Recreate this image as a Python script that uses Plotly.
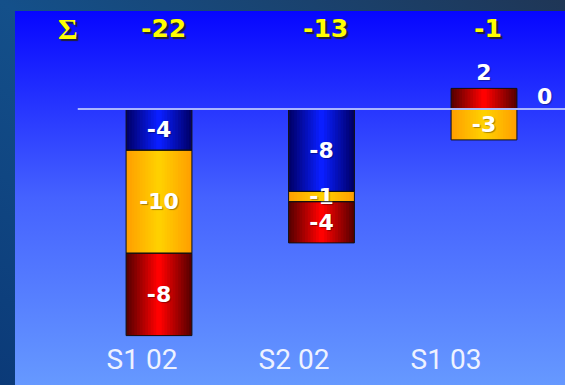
import base64
import plotly.graph_objects as go

# ---- data ----
categories = ["S1 02", "S2 02", "S1 03"]
blue_vals = [-4, -8, 0]
orange_vals = [-10, -1, -3]
red_vals = [-8, -4, 2]
totals = [b + o + r for b, o, r in zip(blue_vals, orange_vals, red_vals)]
sum_symbol = "Σ"

# ---- layout geometry ----
W, H = 565, 385
ML, MR, MT, MB = 15, 0, 11, 45
PW, PH = W - ML - MR, H - MT - MB
BAR_PX = 162.5      # px per category (bars)
BAR0_PX = 159       # centre of first bar from left edge
LAB_PX = 152        # px per category (tick labels)
LAB0_PX = 142
Y_PX = 10.3         # px per unit
Y0_PX = 109         # baseline from top
BAR_W = 0.405
N_LAYERS = 12

x_range = [(ML - BAR0_PX) / BAR_PX, (W - MR - BAR0_PX) / BAR_PX]
y_range = [-(H - MB - Y0_PX) / Y_PX, (Y0_PX - MT) / Y_PX]
xpos = list(range(len(categories)))
tick_pos = [(LAB0_PX + i * LAB_PX - BAR0_PX) / BAR_PX for i in xpos]


def grad_uri(stops, x1, y1, x2, y2):
    st = "".join(f'<stop offset="{o}" stop-color="{c}"/>' for o, c in stops)
    svg = (f'<svg xmlns="http://www.w3.org/2000/svg" viewBox="0 0 100 100" '
           f'preserveAspectRatio="none"><defs><linearGradient id="g" '
           f'x1="{x1}" y1="{y1}" x2="{x2}" y2="{y2}">{st}</linearGradient></defs>'
           f'<rect width="100" height="100" fill="url(#g)"/></svg>')
    return "data:image/svg+xml;base64," + base64.b64encode(svg.encode()).decode()


def mix(c1, c2, t):
    a = [int(c1[i:i + 2], 16) for i in (1, 3, 5)]
    b = [int(c2[i:i + 2], 16) for i in (1, 3, 5)]
    return "#" + "".join(f"{round(x + (y - x) * t):02x}" for x, y in zip(a, b))


outer_bg = grad_uri([(0, "#1f3656"), (0.5, "#14508a"), (1, "#0b3a78")], 1, 0, 0, 1)
plot_bg = grad_uri([(0, "#0606ff"), (0.5, "#4562ff"), (1, "#6699ff")], 0, 0, 0, 1)

label_font = dict(family="DejaVu Sans", size=22, color="white", weight="bold",
                  shadow="1px 1px 1px rgba(0,0,0,0.35)")

series = [("blue", blue_vals, "#00006a", "#0a1eff"),
          ("orange", orange_vals, "#ffa000", "#ffd000"),
          ("red", red_vals, "#5a0000", "#ff0000")]

# relative stacking: positives upward, negatives downward
pos_cum = [0] * len(xpos)
neg_cum = [0] * len(xpos)
bases = {}
for name, vals, _, _ in series:
    b = []
    for i, v in enumerate(vals):
        if v >= 0:
            b.append(pos_cum[i]); pos_cum[i] += v
        else:
            b.append(neg_cum[i]); neg_cum[i] += v
    bases[name] = b

fig = go.Figure()
# cylinder-like shading: concentric bars from dark edge to bright centre
for name, vals, edge, centre in series:
    for k in range(N_LAYERS):
        fig.add_trace(go.Bar(
            x=xpos, y=vals, base=bases[name],
            width=BAR_W * (1 - k / N_LAYERS),
            marker=dict(color=mix(edge, centre, k / (N_LAYERS - 1)), line=dict(width=0)),
            showlegend=False, hoverinfo="skip",
        ))
# outline + value labels on top
for name, vals, edge, centre in series:
    fig.add_trace(go.Bar(
        x=xpos, y=vals, base=bases[name], width=BAR_W, name=name,
        marker=dict(color="rgba(0,0,0,0)", line=dict(color="#111111", width=1)),
        text=[str(v) if v != 0 else "" for v in vals],
        textposition=["outside" if v > 0 else "inside" for v in vals],
        insidetextanchor="middle", textangle=0, cliponaxis=False,
        textfont=label_font, insidetextfont=label_font, outsidetextfont=label_font,
        showlegend=False, hoverinfo="skip",
    ))

annotations = []
sum_font = dict(family="DejaVu Sans", size=25, color="#ffff00", weight="bold",
                shadow="2px 2px 1px #222233")
for xi, t in zip(xpos, totals):
    annotations.append(dict(x=xi, y=(H - MB - 29) / PH, xref="x", yref="paper",
                            text=str(t), showarrow=False, xshift=4,
                            font=sum_font, yanchor="middle"))
annotations.append(dict(x=(68 - BAR0_PX) / BAR_PX, y=(H - MB - 29) / PH,
                        xref="x", yref="paper", text=sum_symbol, showarrow=False,
                        yanchor="middle",
                        font=dict(family="Liberation Serif", size=30, color="#ffff00",
                                  weight="bold", shadow="2px 2px 1px #222233")))
# zero-valued blue segment of the last group, labelled beside the bar
annotations.append(dict(x=xpos[2] + 0.375, y=1.17, xref="x", yref="y",
                        text=str(blue_vals[2]), showarrow=False, yanchor="middle",
                        font=label_font))

fig.update_layout(
    width=W, height=H,
    margin=dict(l=ML, r=MR, t=MT, b=MB, pad=0),
    paper_bgcolor="#134a7a", plot_bgcolor="rgba(0,0,0,0)",
    barmode="overlay", showlegend=False,
    uniformtext=dict(minsize=22, mode="show"),
    xaxis=dict(range=x_range, fixedrange=True,
               tickmode="array", tickvals=tick_pos, ticktext=categories,
               showgrid=False, zeroline=False, showline=False, ticks="",
               tickfont=dict(family="Roboto", size=28, color="#eef2ff")),
    yaxis=dict(range=y_range, visible=False, fixedrange=True),
    annotations=annotations,
    shapes=[dict(type="line", xref="x", yref="y", x0=-0.5, x1=2.5, y0=0, y1=0,
                 line=dict(color="#aab6ff", width=2), layer="above")],
    images=[
        dict(source=outer_bg, xref="paper", yref="paper",
             x=-ML / PW, y=1 + MT / PH, sizex=W / PW, sizey=H / PH,
             xanchor="left", yanchor="top", sizing="stretch", layer="below"),
        dict(source=plot_bg, xref="paper", yref="paper",
             x=0, y=1, sizex=1, sizey=(H - MT) / PH,
             xanchor="left", yanchor="top", sizing="stretch", layer="below"),
    ],
)

fig.write_html("out.html")
